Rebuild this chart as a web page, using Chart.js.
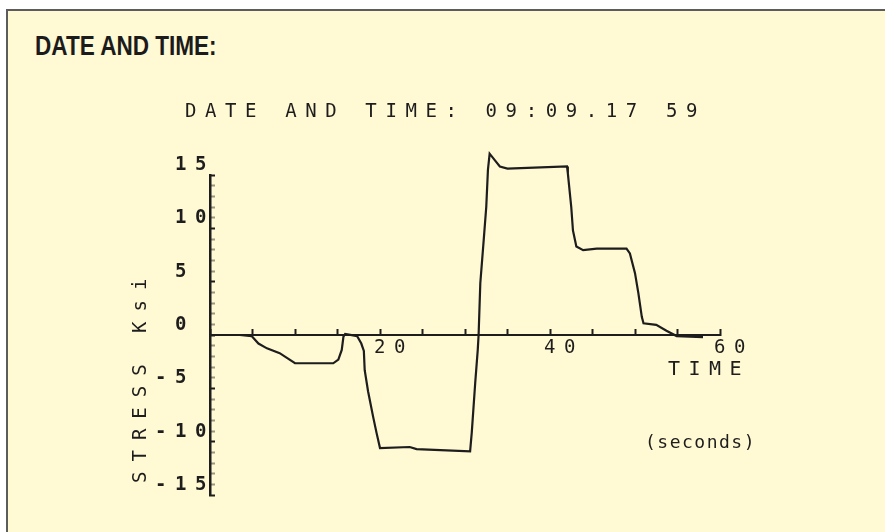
<!DOCTYPE html>
<html>
<head>
<meta charset="utf-8">
<title>DATE AND TIME</title>
<script src="https://cdn.jsdelivr.net/npm/chart.js@4.4.1/dist/chart.umd.min.js"></script>
<style>
  html, body { margin: 0; padding: 0; width: 885px; height: 532px; overflow: hidden; background: #ffffff; }
  #card { position: absolute; left: 6px; top: 9px; width: 900px; height: 540px;
          background: #fff9d4; border-left: 2px solid #5c5c5c; border-top: 2px solid #5c5c5c; }
  #heading { position: absolute; left: 35px; top: 31px; margin: 0; line-height: 27px;
             font: bold 27px "Liberation Sans", Arial, sans-serif;
             color: #1b1b1b; white-space: nowrap;
             transform: scaleX(0.835); transform-origin: 0 0; }
  #plot { position: absolute; left: 0; top: 0; }
</style>
</head>
<body>
<div id="card"></div>
<h1 id="heading">DATE AND TIME:</h1>
<canvas id="plot" width="885" height="532"></canvas>
<script>
// Stress trace recorded against time (seconds, Ksi)
const timeSec = [0, 3.5, 4.9, 5.7, 6.7, 8.2, 10.0, 14.5, 15.1, 15.5,
                 15.7, 15.9, 17.3, 17.8, 18.1, 18.2, 18.6, 19.2, 19.6, 20.0,
                 23.5, 24.3, 30.6, 30.8, 31.2, 31.5, 31.6, 31.8, 32.2, 32.5,
                 32.7, 32.9, 33.5, 34.1, 35.0, 42.0, 42.1, 42.5, 42.7, 43.1,
                 43.9, 45.5, 49.0, 49.4, 50.0, 50.4, 50.8, 51.0, 52.5, 53.7,
                 54.9, 58.0];
const stressKsi = [0, 0, -0.1, -0.8, -1.25, -1.7, -2.65, -2.65, -2.3, -1.4,
                   -0.15, 0.1, -0.1, -0.8, -1.5, -3.3, -5.3, -7.7, -9.2, -10.6,
                   -10.5, -10.7, -10.9, -9.1, -4.5, -1.4, 0, 4.85, 8.9, 12.0,
                   15.5, 17.0, 16.4, 15.8, 15.6, 15.8, 15.15, 12.0, 9.8, 8.3,
                   7.95, 8.1, 8.1, 7.65, 5.8, 3.9, 1.7, 1.1, 0.95, 0.4,
                   -0.1, -0.2];

// Axis labelling
const yLabelledTicks = [-15, -10, -5, 0, 5, 10, 15];
const xLabelledTicks = [20, 40, 60];
const plotTitle = 'DATE AND TIME: 09:09.17 59';
const yAxisTitle = 'STRESS Ksi';
const xAxisTitle = 'TIME';
const xAxisUnit = '(seconds)';

const INK = '#1d1d1d';
const MONO = '"DejaVu Sans Mono", "Liberation Mono", monospace';
const AXIS_SPACING = '8.6px';

// Wide pen-plotter lettering for the tick labels
const plotterSpacing = {
  id: 'plotterSpacing',
  beforeUpdate(chart) { chart.ctx.letterSpacing = AXIS_SPACING; },
  beforeLayout(chart) { chart.ctx.letterSpacing = AXIS_SPACING; },
  beforeDraw(chart) { chart.ctx.letterSpacing = AXIS_SPACING; }
};

// Free-standing plotter lettering: heading line, axis names, units
const plotterText = {
  id: 'plotterText',
  afterDraw(chart) {
    const ctx = chart.ctx;
    const a = chart.chartArea;
    const yZero = chart.scales.y.getPixelForValue(0);
    const xEnd = chart.scales.x.getPixelForValue(60);
    const put = (text, x, y, font, spacing, rot) => {
      ctx.save();
      ctx.font = font;
      ctx.letterSpacing = spacing;
      ctx.fillStyle = INK;
      ctx.textAlign = 'left';
      ctx.textBaseline = 'alphabetic';
      ctx.translate(x, y);
      if (rot) ctx.rotate(rot);
      ctx.fillText(text, 0, 0);
      ctx.restore();
    };
    put(plotTitle, a.left - 25, a.top - 58, '19px ' + MONO, '8.6px');
    put(xAxisTitle, xEnd - 52, yZero + 40, '20px ' + MONO, '8.5px');
    put(xAxisUnit, xEnd - 75, yZero + 113, '18px ' + MONO, '1.5px');
    put(yAxisTitle, a.left - 64, a.bottom - 12, '19px ' + MONO, '10px', -Math.PI / 2);
  }
};

new Chart(document.getElementById('plot'), {
  type: 'line',
  data: {
    datasets: [{
      data: timeSec.map((t, i) => ({ x: t, y: stressKsi[i] })),
      borderColor: INK,
      borderWidth: 2.2,
      pointRadius: 0,
      tension: 0,
      clip: false
    }]
  },
  options: {
    responsive: false,
    animation: false,
    devicePixelRatio: 1,
    layout: { padding: { left: 0, right: 165, top: 175, bottom: 37 } },
    plugins: { legend: { display: false }, tooltip: { enabled: false }, title: { display: false } },
    scales: {
      x: {
        type: 'linear',
        min: 0, max: 60,
        position: { y: 0 },
        border: { color: INK, width: 2 },
        grid: { drawOnChartArea: false, drawTicks: true, tickLength: -7, color: INK, tickColor: INK, tickWidth: 2 },
        ticks: {
          stepSize: 5,
          autoSkip: false,
          maxRotation: 0,
          padding: 9,
          labelOffset: 14,
          color: INK,
          font: { family: MONO, size: 19 },
          callback: v => xLabelledTicks.includes(v) ? String(v) : ''
        }
      },
      y: {
        min: -15, max: 15,
        afterFit: s => { s.width = 210; },
        border: { color: INK, width: 2.5 },
        grid: {
          drawOnChartArea: false, drawTicks: true, tickLength: -5,
          tickColor: c => yLabelledTicks.includes(c.tick.value) ? INK : 'rgba(29,29,29,0.45)',
          tickWidth: 2
        },
        ticks: {
          stepSize: 1,
          autoSkip: false,
          padding: 0,
          labelOffset: -10,
          color: INK,
          font: { family: MONO, size: 19, weight: 'bold' },
          // single digits sit in the tens column of the plotter's label field
          callback: v => yLabelledTicks.includes(v) ? (Math.abs(v) < 10 ? v + ' ' : String(v)) : ''
        }
      }
    }
  },
  plugins: [plotterSpacing, plotterText]
});
</script>
</body>
</html>
